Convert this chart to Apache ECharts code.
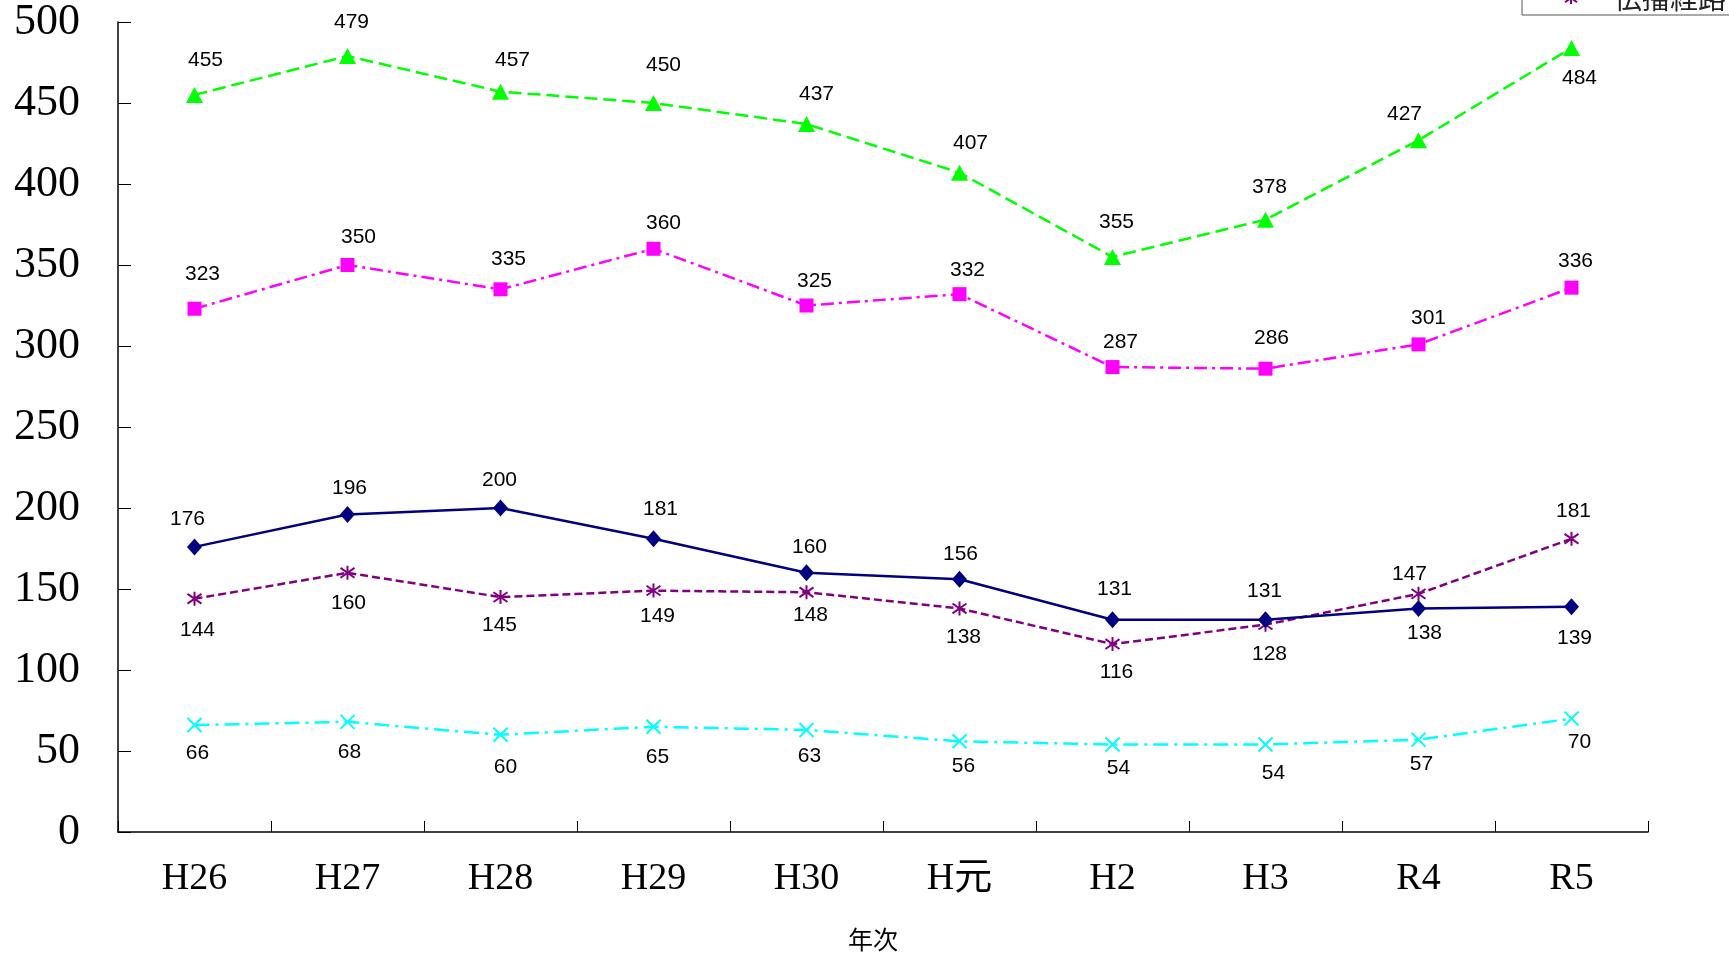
<!DOCTYPE html>
<html>
<head>
<meta charset="utf-8">
<script src="https://cdn.jsdelivr.net/npm/echarts@6/dist/echarts.min.js"></script>
<style>html,body{margin:0;padding:0;background:#fff;}#c{width:1729px;height:960px;}</style>
</head>
<body>
<div id="c"></div>
<script>
const categories = ['H26','H27','H28','H29','H30','H元','H2','H3','R4','R5'];
const yTicks = [0,50,100,150,200,250,300,350,400,450,500];
const seriesNavy = [176,196,200,181,160,156,131,131,138,139];
const seriesMagenta = [323,350,335,360,325,332,287,286,301,336];
const seriesGreen = [455,479,457,450,437,407,355,378,427,484];
const seriesCyan = [66,68,60,65,63,56,54,54,57,70];
const seriesPurple = [144,160,145,149,148,138,116,128,147,181];
const xAxisName = '年次';
const purpleName = '伝播経路';

// label offsets (style only)
const offNavy = [[-7,-28],[2,-26],[-1,-28],[7,-30],[3,-26],[1,-25],[2,-31],[-1,-29],[6,25],[3,31]];
const offMagenta = [[8,-35],[11,-28],[8,-30],[10,-26],[8,-24],[8,-24],[8,-25],[6,-30],[10,-26],[4,-26]];
const offGreen = [[11,-35],[4,-34],[12,-31],[10,-38],[10,-30],[11,-29],[4,-35],[4,-32],[-14,-26],[8,30]];
const offCyan = [[3,28],[2,30],[5,32],[4,31],[3,26],[4,25],[6,24],[8,29],[3,25],[8,24]];
const offPurple = [[3,31],[1,30],[-1,28],[4,26],[4,23],[4,29],[4,28],[4,30],[-9,-20],[2,-28]];

function mk(vals, offs){
  return vals.map((v,i)=>({value:v, label:{offset:offs[i]}}));
}
const labelBase = {show:true, position:'inside', color:'#000', fontFamily:'Liberation Sans, Arial, sans-serif', fontSize:21};

const chart = echarts.init(document.getElementById('c'), null, {renderer:'canvas'});
chart.setOption({
  animation:false,
  backgroundColor:'#fff',
  grid:{left:118, right:81, top:22, bottom:128, containLabel:false, outerBoundsMode:'none'},
  legend:{
    data:[purpleName],
    orient:'vertical',
    left:1522, top:-21,
    padding:[5,10,3,10],
    itemWidth:76, itemHeight:15,
    borderColor:'#555', borderWidth:1, borderRadius:0,
    backgroundColor:'#fff',
    textStyle:{fontFamily:'Noto Sans CJK JP', fontSize:28, color:'#222', lineHeight:28}
  },
  xAxis:{
    type:'category', data:categories, boundaryGap:true,
    name:xAxisName, nameLocation:'middle', nameGap:95,
    nameTextStyle:{fontFamily:'Noto Sans CJK JP', fontSize:25, color:'#000', padding:[0,20,0,0]},
    axisLine:{show:true, lineStyle:{color:'#000', width:1.5}},
    axisTick:{show:true, inside:true, length:11, alignWithLabel:false, lineStyle:{color:'#000', width:1}},
    axisLabel:{margin:28, color:'#000', fontFamily:'Liberation Serif, Noto Sans CJK JP, serif', fontSize:38},
    splitLine:{show:false}
  },
  yAxis:{
    type:'value', min:0, max:500, interval:50,
    axisLine:{show:true, lineStyle:{color:'#000', width:1.5}},
    axisTick:{show:true, inside:true, length:13, lineStyle:{color:'#000', width:1}},
    axisLabel:{margin:38, color:'#000', fontFamily:'Liberation Serif, serif', fontSize:44,
      formatter:v=> yTicks.indexOf(v)>=0 ? String(v) : ''},
    splitLine:{show:false}
  },
  series:[
    {name:'系列1', type:'line', data:mk(seriesNavy, offNavy), symbol:'diamond', symbolSize:[15,17],
      lineStyle:{color:'#000080', width:2.5, type:'solid'}, itemStyle:{color:'#000080'}, label:labelBase, z:5},
    {name:'系列2', type:'line', data:mk(seriesMagenta, offMagenta), symbol:'rect', symbolSize:14,
      lineStyle:{color:'#FF00FF', width:2.5, type:[13,5,3,5]}, itemStyle:{color:'#FF00FF'}, label:labelBase, z:4},
    {name:'系列3', type:'line', data:mk(seriesGreen, offGreen), symbol:'triangle', symbolSize:[17,16],
      lineStyle:{color:'#00FF00', width:2.5, type:[13,6]}, itemStyle:{color:'#00FF00'}, label:labelBase, z:3},
    {name:'系列4', type:'line', data:mk(seriesCyan, offCyan), symbol:'path://M0,0L10,10M10,0L0,10', symbolSize:14,
      lineStyle:{color:'#00FFFF', width:2.5, type:[15,6,3,6]}, itemStyle:{color:'#00FFFF', borderColor:'#00FFFF', borderWidth:2}, label:labelBase, z:3},
    {name:purpleName, type:'line', data:mk(seriesPurple, offPurple), symbol:'path://M5,0L5,10M1,1.5L9,8.5M9,1.5L1,8.5', symbolSize:14,
      lineStyle:{color:'#800080', width:2.5, type:[8,4]}, itemStyle:{color:'#800080', borderColor:'#800080', borderWidth:2}, label:labelBase, z:4}
  ]
});
</script>
</body>
</html>
